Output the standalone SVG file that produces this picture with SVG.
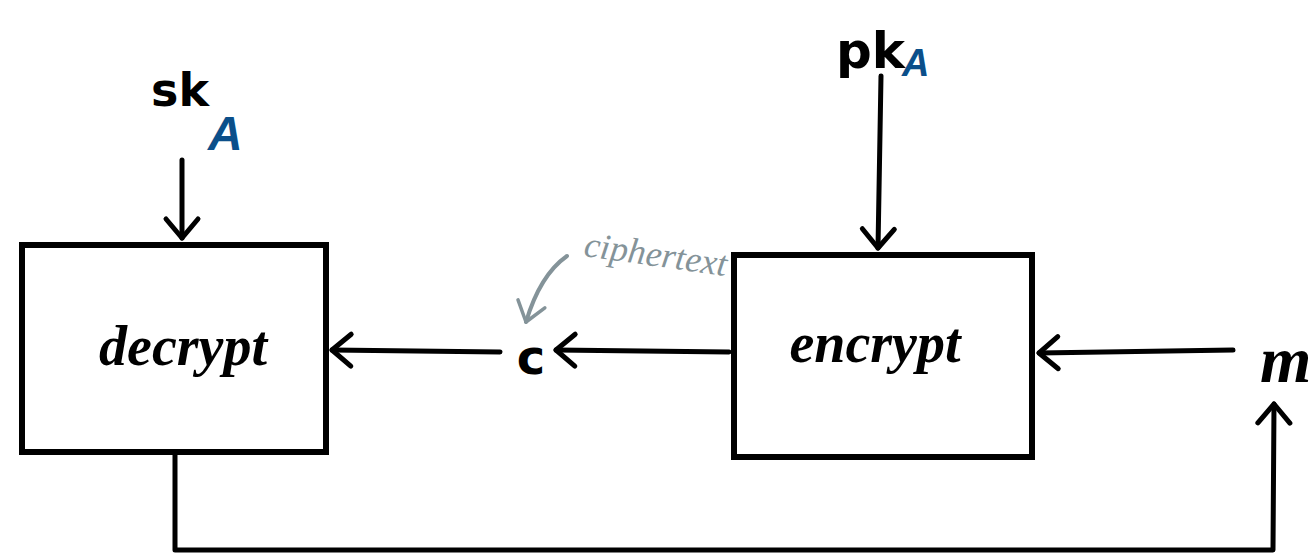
<svg xmlns="http://www.w3.org/2000/svg" width="1312" height="559" viewBox="0 0 1312 559">
<style>
.box{fill:#fff;stroke:#000;stroke-width:6}
.ln{fill:none;stroke:#000;stroke-width:5;stroke-linecap:round;stroke-linejoin:round}
.hand{font-family:"DejaVu Sans","Liberation Sans",sans-serif;fill:#000}
.lbl{font-family:"Liberation Serif",serif;font-style:italic;font-weight:bold;fill:#000}
.blue{font-family:"Liberation Sans",sans-serif;font-style:italic;font-weight:bold;fill:#0b4f8a}
.gray{font-family:"Liberation Serif",serif;font-style:italic;fill:#849399}
</style>
<defs>
<marker id="ah" viewBox="-10 -10 40 40" refX="17" refY="10" markerWidth="40" markerHeight="40" markerUnits="userSpaceOnUse" orient="auto" overflow="visible">
<path d="M-2,-6 L17,10 L-2,26" fill="none" stroke="#000" stroke-width="5" stroke-linecap="round" stroke-linejoin="round"/>
</marker>
<marker id="ahg" viewBox="-10 -10 40 40" refX="17" refY="10" markerWidth="40" markerHeight="40" markerUnits="userSpaceOnUse" orient="auto" overflow="visible">
<path d="M-2,-4 L17,10 L-2,24" fill="none" stroke="#849399" stroke-width="3.5" stroke-linecap="round" stroke-linejoin="round"/>
</marker>
</defs>
<rect width="1312" height="559" fill="#fff"/>
<g id="connectors">
<path class="ln" d="M182,160 L182,238" marker-end="url(#ah)"/>
<path class="ln" d="M881,76 L878,248" marker-end="url(#ah)"/>
<path class="ln" d="M500,352 L332,350" marker-end="url(#ah)"/>
<path class="ln" d="M729,352 L556,350" marker-end="url(#ah)"/>
<path class="ln" d="M1233,350 L1039,353" marker-end="url(#ah)"/>
<path class="ln" d="M175,455 L175,550 L1273,550 L1274,404" marker-end="url(#ah)"/>
<path d="M567,256 Q540,275 526,322" fill="none" stroke="#849399" stroke-width="4" stroke-linecap="round" marker-end="url(#ahg)"/>
</g>
<g id="decrypt">
<rect class="box" x="22" y="245" width="304" height="207"/>
<text class="lbl" x="183" y="365" font-size="56" text-anchor="middle">decrypt</text>
</g>
<g id="encrypt">
<rect class="box" x="734" y="255" width="298" height="202"/>
<text class="lbl" x="875" y="362" font-size="56" text-anchor="middle">encrypt</text>
</g>
<g id="c">
<text class="hand" x="531" y="374" font-size="48" font-weight="bold" text-anchor="middle">c</text>
</g>
<g id="m">
<text class="lbl" x="1260" y="382" font-size="66">m</text>
</g>
<g id="skA">
<text class="hand" x="151" y="106" font-size="46" font-weight="bold">sk</text>
<text class="blue" x="208" y="150" font-size="48">A</text>
</g>
<g id="pkA">
<text class="hand" x="836" y="68" font-size="50" font-weight="bold">pk</text>
<text class="blue" x="902" y="76" font-size="38">A</text>
</g>
<g id="ciphertext">
<text class="gray" x="583" y="256" font-size="36" transform="rotate(8 583 256)">ciphertext</text>
</g>
</svg>
